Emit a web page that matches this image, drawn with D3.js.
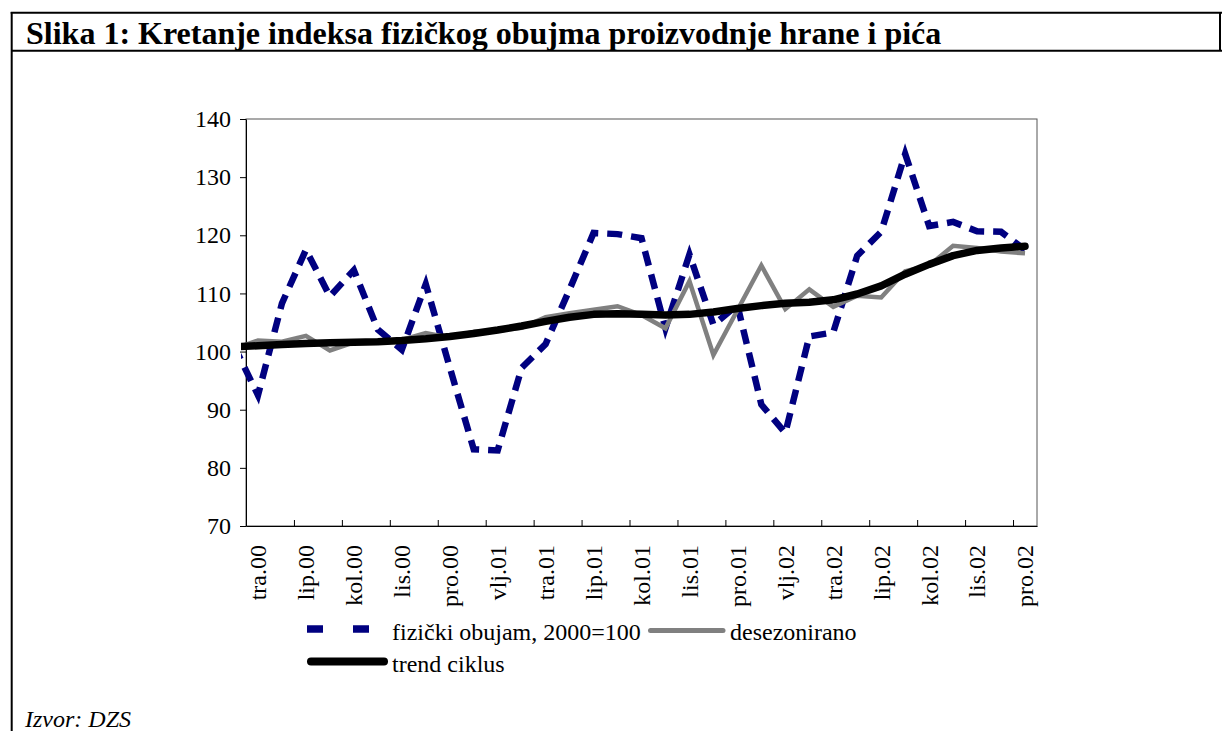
<!DOCTYPE html>
<html>
<head>
<meta charset="utf-8">
<script src="https://d3js.org/d3.v7.min.js"></script>
<style>
  body {margin:0; background:#fff;}
  svg text {font-family:"Liberation Serif","Times New Roman",serif; fill:#000;}
</style>
</head>
<body>
<div id="chart"></div>
<script>
// mjeseci - ožu.00 je prije prve oznake, linije krenu malo izvan osi kao na slici
var months = ["ožu.00","tra.00","svi.00","lip.00","srp.00","kol.00","ruj.00","lis.00","stu.00","pro.00",
  "sij.01","vlj.01","ožu.01","tra.01","svi.01","lip.01","srp.01","kol.01","ruj.01","lis.01","stu.01","pro.01",
  "sij.02","vlj.02","ožu.02","tra.02","svi.02","lip.02","srp.02","kol.02","ruj.02","lis.02","stu.02","pro.02"];

var obujam = [101, 92.5, 108.3, 117.5, 109.5, 114, 103.8, 100.3, 111.6, 97.3,
  83.2, 83.0, 97.2, 101.3, 110.7, 120.4, 120.2, 119.5, 104.0, 116.7, 104.6, 108.0,
  90.9, 86.0, 102.6, 103.3, 116.5, 120.6, 134.0, 121.6, 122.3, 120.7, 120.6, 117.5];

var desezonirano = [100.5, 101.9, 101.7, 102.7, 100.2, 101.6, 101.8, 102.0, 103.2, 102.4,
  103.4, 103.6, 104.1, 105.9, 106.6, 107.2, 107.8, 106.3, 104.0, 112.1, 99.4, 107.1,
  114.8, 107.3, 110.7, 107.7, 109.6, 109.3, 113.8, 114.8, 118.2, 117.8, 117.2, 116.9];

var trend = [100.8, 101.0, 101.2, 101.4, 101.5, 101.6, 101.7, 101.9, 102.2, 102.6,
  103.1, 103.7, 104.4, 105.2, 105.9, 106.4, 106.5, 106.4, 106.3, 106.4, 106.8, 107.4,
  107.9, 108.3, 108.5, 108.9, 109.9, 111.3, 113.3, 115.0, 116.5, 117.4, 117.8, 118.1];

var yTicks = [70, 80, 90, 100, 110, 120, 130, 140];

var svg = d3.select("#chart").append("svg")
  .attr("width", 1222)
  .attr("height", 731)

var x = d3.scaleLinear().domain([0.5, months.length - 0.5]).range([246, 1037]);
var y = d3.scaleLinear().domain([70, 140]).range([526, 119]);

// okvir tablice
svg.append("line").attr("x1", 10.7).attr("x2", 1222).attr("y1", 12.7).attr("y2", 12.7)
  .style("stroke", "black").style("stroke-width", 2)
svg.append("line").attr("x1", 11.7).attr("x2", 11.7).attr("y1", 12).attr("y2", 731)
  .style("stroke", "black").style("stroke-width", 2)
svg.append("line").attr("x1", 11).attr("x2", 1222).attr("y1", 50.7).attr("y2", 50.7)
  .style("stroke", "black").style("stroke-width", 2)
svg.append("line").attr("x1", 1220).attr("x2", 1220).attr("y1", 12).attr("y2", 51)
  .style("stroke", "black").style("stroke-width", 2)

svg.append("text")
  .text("Slika 1: Kretanje indeksa fizičkog obujma proizvodnje hrane i pića")
  .attr("x", 26).attr("y", 43.5)
  .style("font-size", "32px").style("font-weight", "bold")

// plot area
svg.append("rect")
  .attr("x", x.range()[0]).attr("y", y.range()[1])
  .attr("width", x.range()[1] - x.range()[0])
  .attr("height", y.range()[0] - y.range()[1])
  .style("fill", "none").style("stroke", "#555").style("stroke-width", 1)

var yAxis = svg.append("g")
  .attr("transform", "translate(246,0)")
  .call(d3.axisLeft(y).tickValues(yTicks).tickSize(6).tickSizeOuter(0).tickPadding(9));

var tickPos = [];
for (var i = 0; i < months.length - 1; i += 2) tickPos.push(i + 0.5);

var xAxis = svg.append("g")
  .attr("transform", "translate(0,526)")
  .call(d3.axisBottom(x).tickValues(tickPos).tickSize(-6).tickSizeOuter(0).tickFormat(""));

svg.selectAll(".domain, .tick line").style("stroke", "black").style("stroke-width", 1);
yAxis.selectAll("text").style("font-size", "24px").style("font-family", "Liberation Serif");

var labelIdx = [];
for (var j = 1; j < months.length; j += 2) labelIdx.push(j);

svg.selectAll("text.xlab").data(labelIdx).enter().append("text")
  .attr("class", "xlab")
  .attr("transform", function (d) { return "translate(" + x(d) + ",545) rotate(-90)"; })
  .attr("text-anchor", "end")
  .attr("dy", "0.35em")
  .style("font-size", "24px")
  .text(function (d) { return months[d]; });

// serije
svg.append("clipPath").attr("id", "clip")
  .append("rect").attr("x", 241).attr("y", 100).attr("width", 800).attr("height", 440);

var line = d3.line()
  .x(function (d, i) { return x(i); })
  .y(function (d) { return y(d); });

var plot = svg.append("g").attr("clip-path", "url(#clip)");

plot.append("path").attr("d", line(obujam))
  .style("fill", "none").style("stroke", "#000080").style("stroke-width", 6.5)
  .style("stroke-dasharray", "15,9").style("stroke-linejoin", "miter")

plot.append("path").attr("d", line(desezonirano))
  .style("fill", "none").style("stroke", "#808080").style("stroke-width", 4.5)
  .style("stroke-linejoin", "miter")

plot.append("path").attr("d", line(trend))
  .style("fill", "none").style("stroke", "black").style("stroke-width", 7.5)
  .style("stroke-linejoin", "round").style("stroke-linecap", "round")

// legenda
svg.append("line").attr("x1", 307).attr("x2", 385).attr("y1", 629).attr("y2", 629)
  .style("stroke", "#000080").style("stroke-width", 7.5).style("stroke-dasharray", "16,30")
svg.append("text").text("fizički obujam, 2000=100").attr("x", 392).attr("y", 640).style("font-size", "24px")

svg.append("line").attr("x1", 650.5).attr("x2", 723).attr("y1", 630.5).attr("y2", 630.5)
  .style("stroke", "#808080").style("stroke-width", 5).style("stroke-linecap", "round")
svg.append("text").text("desezonirano").attr("x", 730).attr("y", 640).style("font-size", "24px")

svg.append("line").attr("x1", 311).attr("x2", 384).attr("y1", 661.5).attr("y2", 661.5)
  .style("stroke", "black").style("stroke-width", 8).style("stroke-linecap", "round")
svg.append("text").text("trend ciklus").attr("x", 392).attr("y", 672).style("font-size", "24px")

svg.append("text").text("Izvor: DZS").attr("x", 25).attr("y", 727)
  .style("font-size", "24px").style("font-style", "italic")
</script>
</body>
</html>
